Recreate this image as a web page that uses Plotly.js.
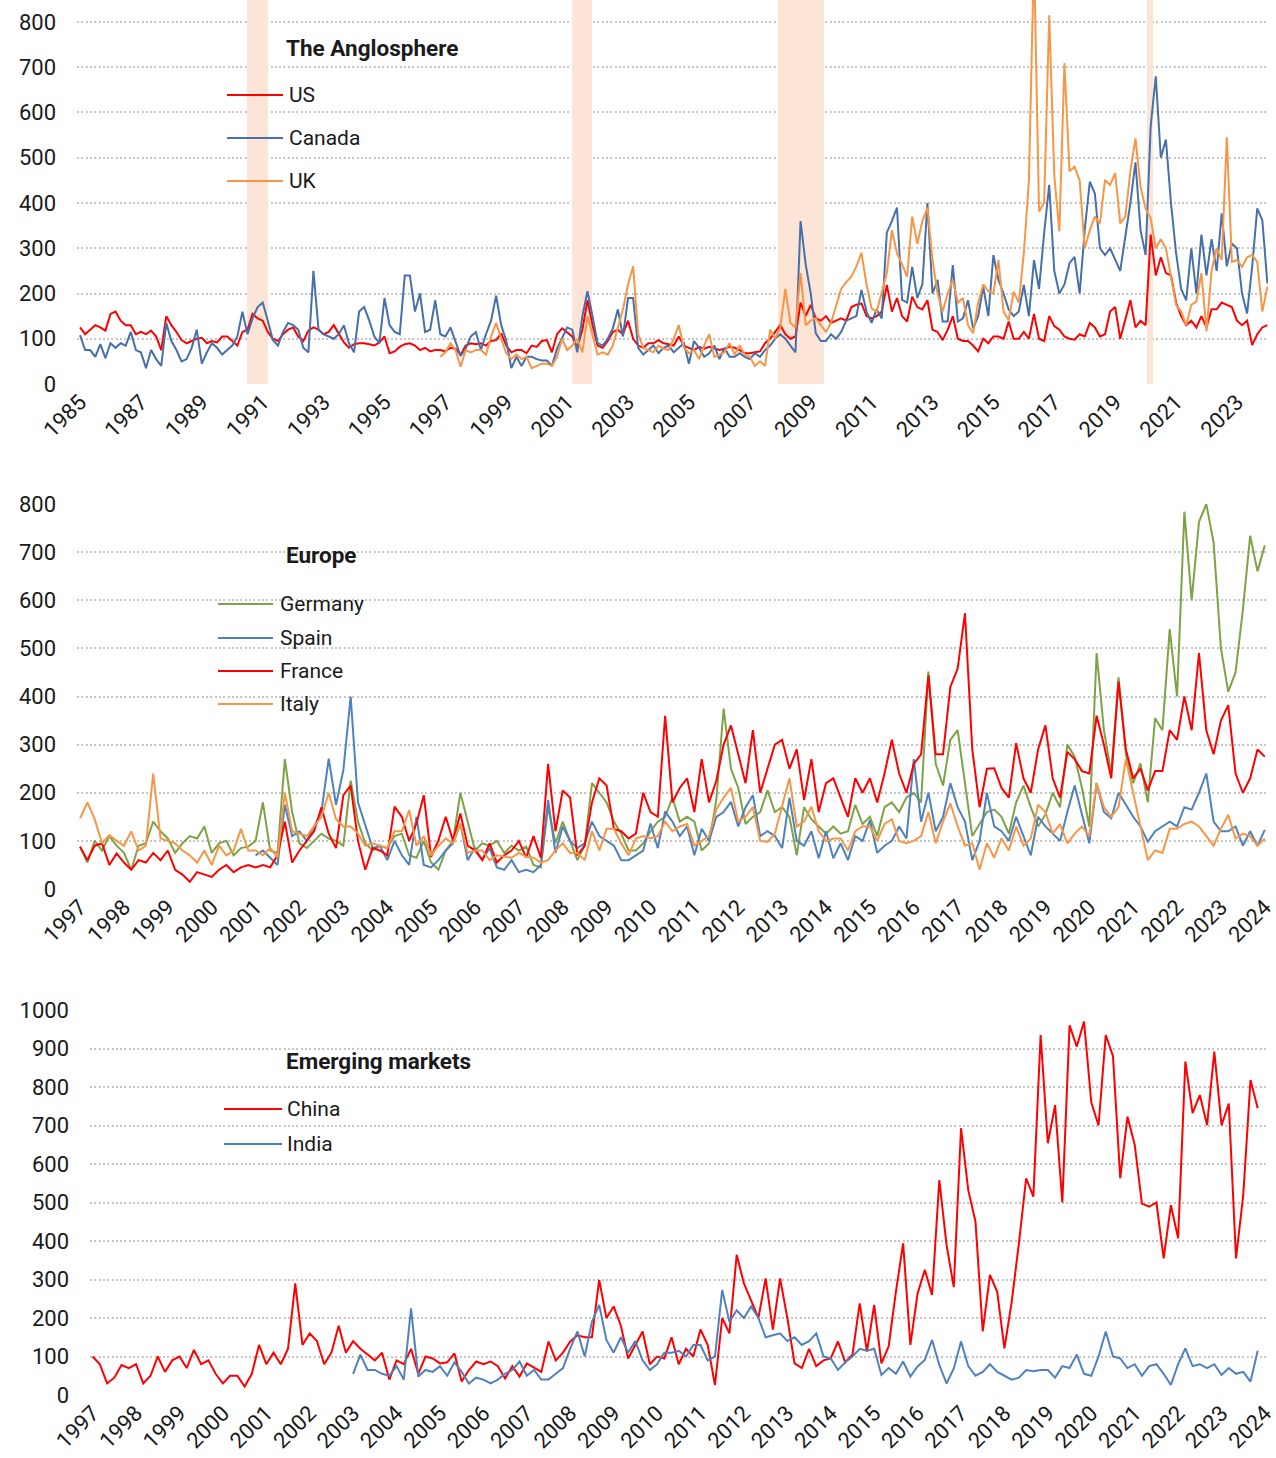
<!DOCTYPE html>
<html>
<head>
<meta charset="utf-8">
<script src="https://cdn.plot.ly/plotly-3.0.1.min.js"></script>
<style>
  html, body { margin: 0; padding: 0; background: #ffffff; }
  #chart { width: 1276px; height: 1458px; }
</style>
</head>
<body>
<div id="chart"></div>
<script>
// ---------------- DATA ----------------
// All series are bi-monthly readings (every 2 months) starting at the given year.
const STEP_YEARS = 1 / 6;

// Panel 1: The Anglosphere
const usStart = 1985;
const usValues = [
125,110,120,130,125,118,
155,160,140,130,130,110,
115,110,118,105,75,150,
130,115,97,90,95,100,
102,90,95,92,105,105,
95,85,115,120,155,145,
140,115,100,95,110,120,
125,105,95,118,125,120,
110,115,130,110,92,80,
88,90,90,88,85,92,
105,68,72,82,88,90,
85,75,80,72,75,75,
72,80,78,64,85,90,
88,90,85,95,97,112,
85,70,75,75,68,85,
82,95,97,70,110,123,
115,105,80,120,185,130,
85,80,95,115,120,110,
140,100,85,80,90,90,
97,90,88,85,105,85,
80,75,82,78,82,78,
75,78,82,80,75,68,
68,70,72,90,100,115,
130,110,100,105,180,150,
175,145,140,150,135,140,
145,140,170,175,178,150,
145,150,160,219,160,190,
150,138,193,170,165,185,
120,115,97,120,150,100,
95,95,85,72,100,90,
105,105,100,138,100,100,
115,100,155,100,95,150,
128,120,105,100,98,110,
105,135,125,105,110,160,
170,100,140,185,125,140,
130,330,240,280,245,240,
180,150,130,140,125,150,
125,165,165,180,175,170,
140,130,140,86,110,125,
130];

const canadaStart = 1985;
const canadaValues = [
108,75,75,60,88,57,
90,80,90,85,115,75,
70,35,75,55,40,135,
95,75,50,55,80,120,
45,70,90,80,65,75,
85,105,160,110,145,170,
180,140,97,85,115,135,
130,120,80,70,250,120,
110,105,100,110,130,90,
70,160,170,140,105,90,
190,130,115,110,240,240,
160,200,115,120,185,110,
105,125,95,62,78,105,
115,75,110,140,195,130,
95,35,60,40,60,60,
55,52,52,40,78,100,
125,120,70,150,205,150,
90,85,100,123,165,105,
190,190,80,65,75,85,
68,80,85,70,80,90,
45,95,80,60,68,85,
55,80,60,60,68,60,
55,68,60,75,85,100,
110,100,85,70,360,265,
200,112,95,95,110,100,
115,140,145,150,208,160,
135,165,145,335,360,390,
186,180,259,190,220,400,
200,230,138,138,263,138,
145,185,123,150,215,150,
285,230,200,165,150,160,
219,150,274,210,333,440,
250,200,220,267,281,200,
340,447,421,300,285,300,
275,250,326,400,490,340,
285,570,680,500,540,400,
290,210,185,300,200,330,
240,320,250,377,260,310,
300,200,156,260,388,362,
222];

const ukStart = 1996 + 10 / 12;
const ukValues = [
60,
70,90,75,38,75,70,
75,75,65,105,135,100,
68,55,65,55,60,35,
40,45,45,40,60,100,
75,85,100,70,150,110,
65,70,65,85,125,165,
220,260,110,80,75,70,
85,78,75,100,130,80,
68,75,55,85,110,60,
65,70,90,65,85,65,
60,40,50,40,120,100,
125,210,135,125,245,130,
140,145,130,115,135,170,
210,225,237,260,290,220,
167,160,200,245,340,289,
265,237,370,310,360,390,
274,200,160,200,230,180,
190,130,112,180,220,205,
200,274,160,141,204,180,
289,450,950,381,400,815,
460,337,709,470,480,450,
300,340,370,355,451,440,
466,355,370,470,543,436,
388,366,300,320,300,240,
175,160,130,175,182,245,
116,250,300,274,545,270,
274,259,280,285,270,160,
215];

// US recessions (shaded bands), decimal years
const recessionStart = [1990.5, 2001.17, 2007.92, 2020.04];
const recessionEnd   = [1991.17, 2001.83, 2009.42, 2020.25];

// Panel 2: Europe
const germanyStart = 1997;
const germanyValues = [
88,55,100,80,110,90,
75,40,90,95,140,120,
105,75,95,110,105,130,
75,95,100,70,85,88,
100,180,80,75,270,160,
95,85,100,115,105,100,
90,225,140,95,80,90,
85,110,115,70,65,100,
55,40,80,100,200,140,
80,95,90,100,75,90,
80,88,50,45,170,95,
140,100,60,90,220,200,
180,140,115,80,80,95,
120,140,150,190,140,150,
140,80,95,185,375,250,
210,135,150,160,205,160,
170,150,70,170,145,130,
115,130,115,120,175,135,
150,110,170,180,160,190,
200,180,452,260,215,310,
330,220,110,135,160,165,
150,115,180,215,170,130,
155,200,170,300,275,210,
130,490,330,240,440,280,
220,261,180,355,330,540,
400,784,600,763,800,720,
500,410,450,580,734,660,
714];

const spainStart = 2001;
const spainValues = [
70,80,65,50,175,110,
120,100,130,160,271,175,
247,400,180,130,85,90,
60,100,70,50,150,50,
45,60,80,95,136,60,
85,60,85,45,40,60,
35,40,35,50,185,75,
130,100,85,95,140,110,
100,90,60,60,70,80,
136,85,161,140,110,130,
70,125,100,150,160,181,
130,170,195,110,120,110,
85,190,100,90,120,64,
120,64,95,60,110,100,
143,75,90,100,130,105,
270,140,200,120,150,220,
170,140,60,100,200,130,
120,100,150,110,70,150,
130,115,100,160,215,155,
95,220,160,147,200,175,
150,130,98,120,130,140,
130,170,165,200,240,140,
120,120,130,90,120,90,
123];

const franceStart = 1997;
const franceValues = [
88,60,90,95,50,74,
55,40,60,55,75,60,
80,40,30,15,35,30,
25,40,50,35,45,50,
45,50,45,70,140,55,
80,100,120,170,115,85,
195,215,100,40,85,80,
70,171,150,100,136,195,
67,101,150,100,157,90,
80,60,95,55,70,80,
100,65,110,65,260,120,
205,190,70,90,180,230,
215,125,120,105,115,200,
160,150,360,180,210,230,
160,270,180,225,300,340,
280,220,330,200,250,300,
310,250,290,185,270,160,
220,230,190,150,230,200,
230,180,240,310,240,200,
260,280,444,280,280,420,
458,573,290,170,250,251,
210,190,303,230,200,290,
340,230,190,285,270,245,
240,360,300,230,431,290,
230,250,205,245,245,330,
310,400,330,490,330,280,
350,382,240,200,230,290,
275];

const italyStart = 1997;
const italyValues = [
147,180,145,95,112,100,
90,120,80,90,240,105,
100,95,80,70,55,80,
50,90,70,80,125,80,
80,70,85,65,200,120,
115,110,130,150,200,145,
130,130,115,90,95,90,
85,120,120,164,90,110,
70,90,105,95,136,75,
80,80,60,70,67,65,
75,67,65,55,60,80,
95,75,75,60,120,80,
125,125,95,70,105,110,
105,110,140,120,130,135,
90,100,110,165,190,210,
140,150,170,100,98,115,
175,230,130,140,171,120,
100,105,105,80,120,130,
130,100,135,145,100,95,
100,110,160,95,140,178,
130,90,95,40,95,65,
105,80,130,90,105,175,
160,115,135,95,115,130,
110,220,170,150,170,270,
200,130,60,80,75,125,
125,135,140,130,110,90,
125,154,105,115,110,90,
105];

// Panel 3: Emerging markets
const chinaStart = 1997;
const chinaValues = [
100,80,30,45,78,70,
80,30,50,100,60,90,
100,70,117,80,90,55,
30,50,50,22,55,130,
80,110,80,120,290,130,
160,140,80,110,180,110,
140,120,105,90,110,40,
90,80,120,55,100,95,
82,85,108,35,65,87,
80,87,75,43,75,48,
82,70,60,139,90,110,
139,155,150,150,299,200,
230,180,95,130,165,80,
100,95,150,80,120,100,
170,130,26,200,160,364,
290,245,200,303,170,303,
200,82,70,120,75,90,
95,139,85,105,238,113,
234,82,126,268,394,130,
264,325,260,558,390,280,
693,532,450,165,312,268,
121,242,394,563,515,935,
654,753,500,960,905,970,
760,700,935,880,563,723,
650,497,489,500,355,493,
407,866,732,779,701,892,
701,757,355,519,818,745];

const indiaStart = 2003;
const indiaValues = [
55,105,65,65,55,50,
75,40,225,48,65,60,
75,50,85,60,30,45,
40,30,40,55,65,87,
50,65,40,40,55,70,
121,165,100,190,234,143,
110,150,110,140,90,65,
80,110,110,115,100,130,
130,90,100,273,190,220,
200,230,200,150,155,160,
140,150,130,140,160,100,
95,65,85,100,120,115,
120,52,70,55,87,48,
74,91,143,78,30,69,
139,75,50,60,80,60,
50,40,45,65,62,65,
65,45,75,70,105,55,
50,100,165,100,95,70,
80,50,75,80,55,26,
80,121,75,80,70,80,
52,70,55,60,35,115];

// Titles and legend labels
const panelTitles = ['The Anglosphere', 'Europe', 'Emerging markets'];
const anglosphereNames = ['US', 'Canada', 'UK'];
const europeNames = ['Germany', 'Spain', 'France', 'Italy'];
const emergingNames = ['China', 'India'];

// ---------------- STYLE / LAYOUT ----------------
const W = 1276, H = 1458;
const px = x => x / W;
const py = y => 1 - y / H;

const RED = '#FF0000';
const BLUE_DARK = '#4670AB';
const BLUE = '#4F81BD';
const ORANGE = '#F79646';
const GREEN = '#7EA345';
const BAND = '#FCE4D6';

const TEXT = '#1a1a1a';
const TICK_FONT = { family: 'Roboto, "Open Sans", sans-serif', size: 22, color: TEXT };
const LEG_FONT = { family: 'Roboto, "Open Sans", sans-serif', size: 21, color: TEXT };
const TITLE_FONT = { family: 'Roboto, "Open Sans", sans-serif', size: 22.5, color: TEXT };

const Y1_TOP = 848.6;   // top of the first panel's value axis

function timeAxis(start, n) {
  return Array.from({ length: n }, (_, i) => start + i * STEP_YEARS);
}

function series(name, start, values, color, xa, ya) {
  return {
    type: 'scatter', mode: 'lines', name: name,
    x: timeAxis(start, values.length), y: values,
    xaxis: xa, yaxis: ya,
    line: { color: color, width: 2 },
    showlegend: false
  };
}

// recession bands drawn as full-height bars behind the lines
const bandTrace = {
  type: 'bar', name: 'US recession',
  x: recessionStart.map((s, i) => (s + recessionEnd[i]) / 2),
  width: recessionStart.map((s, i) => recessionEnd[i] - s),
  y: recessionStart.map(() => Y1_TOP),
  base: 0,
  marker: { color: BAND, line: { width: 0 } },
  xaxis: 'x', yaxis: 'y', hoverinfo: 'skip', showlegend: false
};

const traces = [
  bandTrace,
  series(anglosphereNames[0], usStart, usValues, RED, 'x', 'y'),
  series(anglosphereNames[1], canadaStart, canadaValues, BLUE_DARK, 'x', 'y'),
  series(anglosphereNames[2], ukStart, ukValues, ORANGE, 'x', 'y'),
  series(europeNames[0], germanyStart, germanyValues, GREEN, 'x2', 'y2'),
  series(europeNames[1], spainStart, spainValues, BLUE, 'x2', 'y2'),
  series(europeNames[2], franceStart, franceValues, RED, 'x2', 'y2'),
  series(europeNames[3], italyStart, italyValues, ORANGE, 'x2', 'y2'),
  series(emergingNames[0], chinaStart, chinaValues, RED, 'x3', 'y3'),
  series(emergingNames[1], indiaStart, indiaValues, BLUE, 'x3', 'y3')
];

function xAxis(domainPx, range, tick0, dtick, anchor) {
  return {
    domain: [px(domainPx[0]), px(domainPx[1])], range: range, anchor: anchor,
    tickmode: 'linear', tick0: tick0, dtick: dtick, tickangle: -45,
    showgrid: false, zeroline: false, showline: false, ticks: '',
    ticklabeloverflow: 'allow',
    tickfont: TICK_FONT, fixedrange: true, automargin: false
  };
}
function yAxis(domainPx, range, dtick, anchor) {
  return {
    domain: [py(domainPx[1]), py(domainPx[0])], range: range, anchor: anchor,
    tickmode: 'linear', tick0: 0, dtick: dtick,
    showgrid: true, gridcolor: '#C6C6C6', gridwidth: 1.7, griddash: '2px,2.3px',
    zeroline: false, showline: false, ticks: '',
    ticklabelstandoff: 20,
    tickfont: TICK_FONT, fixedrange: true, automargin: false
  };
}

const shapes = [];
const annotations = [];
function legendBlock(title, titleY, names, colors, ys, lineX0, lineX1, textX) {
  annotations.push({
    xref: 'paper', yref: 'paper', x: px(284), y: py(titleY),
    xanchor: 'left', yanchor: 'middle', showarrow: false,
    text: '<b>' + title + '</b>', font: TITLE_FONT
  });
  names.forEach((n, i) => {
    shapes.push({
      type: 'line', xref: 'paper', yref: 'paper',
      x0: px(lineX0), x1: px(lineX1), y0: py(ys[i]), y1: py(ys[i]),
      line: { color: colors[i], width: 2 }
    });
    annotations.push({
      xref: 'paper', yref: 'paper', x: px(textX), y: py(ys[i]),
      xanchor: 'left', yanchor: 'middle', showarrow: false,
      text: n, font: LEG_FONT
    });
  });
}
legendBlock(panelTitles[0], 48, anglosphereNames, [RED, BLUE_DARK, ORANGE], [95, 138, 181], 227, 283, 287);
legendBlock(panelTitles[1], 555, europeNames, [GREEN, BLUE, RED, ORANGE], [604, 638, 671, 704], 218, 273, 278);
legendBlock(panelTitles[2], 1061, emergingNames, [RED, BLUE], [1109, 1144], 224, 282, 285);

const layout = {
  width: W, height: H,
  margin: { l: 0, r: 0, t: 0, b: 0, pad: 0 },
  paper_bgcolor: '#ffffff', plot_bgcolor: 'rgba(0,0,0,0)',
  showlegend: false, bargap: 0,
  font: TICK_FONT,
  xaxis:  xAxis([77, 1268], [1984.9, 2024.02], 1985, 2, 'y'),
  yaxis:  yAxis([0, 384], [0, Y1_TOP], 100, 'x'),
  xaxis2: xAxis([77, 1267], [1996.93, 2024.05], 1997, 1, 'y2'),
  yaxis2: yAxis([504, 889], [0, 800], 100, 'x2'),
  xaxis3: xAxis([90, 1268], [1996.94, 2024.07], 1997, 1, 'y3'),
  yaxis3: yAxis([1010, 1395], [0, 1000], 100, 'x3'),
  shapes: shapes,
  annotations: annotations
};

Plotly.newPlot('chart', traces, layout, { displayModeBar: false, responsive: false });
</script>
</body>
</html>
